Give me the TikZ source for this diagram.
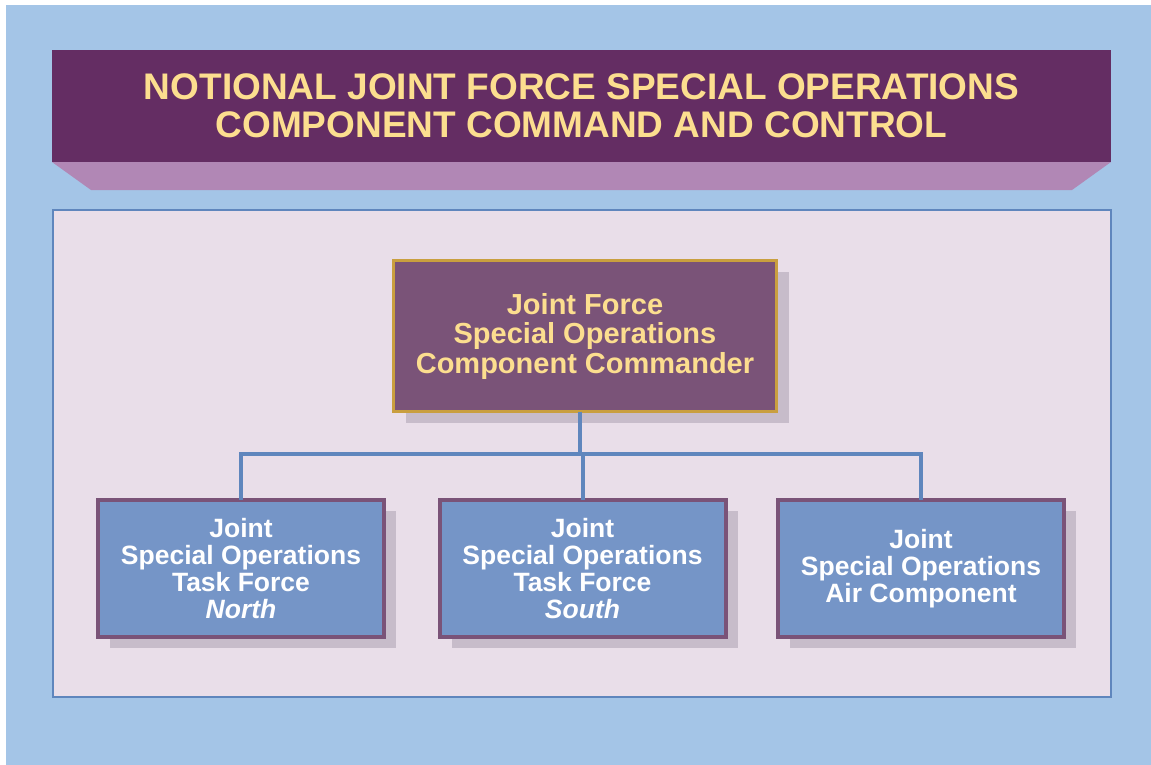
\documentclass[tikz,border=0pt]{standalone}
\usepackage{fontspec}
\setmainfont{Liberation Sans}
\usetikzlibrary{shadows,calc}
\definecolor{skyblue}{HTML}{A4C5E7}
\definecolor{plum}{HTML}{642D63}
\definecolor{bevel}{HTML}{B187B5}
\definecolor{panel}{HTML}{E9DEE9}
\definecolor{linkblue}{HTML}{5F86BD}
\definecolor{mauve}{HTML}{7A5378}
\definecolor{gold}{HTML}{C99F3F}
\definecolor{shade}{HTML}{C7BCCA}
\definecolor{boxblue}{HTML}{7595C7}
\definecolor{cream}{HTML}{FCDE8F}
\tikzset{
  cmdbox/.style={draw=gold, line width=3pt, fill=mauve, text=cream,
    minimum width=383pt, minimum height=151pt, inner sep=0pt, outer sep=0pt,
    align=center, font=\fontsize{29}{29.5}\selectfont\bfseries,
    drop shadow={shadow xshift=12pt, shadow yshift=-11pt, fill=shade, opacity=1}},
  unitbox/.style={draw=mauve, line width=4pt, fill=boxblue, text=white,
    minimum width=286pt, minimum height=137pt, inner sep=0pt, outer sep=0pt,
    align=center, font=\fontsize{26.5}{26.8}\selectfont\bfseries,
    drop shadow={shadow xshift=12pt, shadow yshift=-11pt, fill=shade, opacity=1}},
  link/.style={draw=linkblue, line width=4pt}
}
\begin{document}
\begin{tikzpicture}[x=1pt, y=-1pt]
  \useasboundingbox (0,0) rectangle (1151,765);
  \fill[white] (0,0) rectangle (1151,765);
  \fill[skyblue] (6,5) rectangle (1151,765);
  % title banner
  \node[fill=plum, text=cream, minimum width=1059pt, minimum height=112pt,
    inner sep=0pt, outer sep=0pt, align=center,
    font=\fontsize{37}{38}\selectfont\bfseries] (title) at (581.5,106)
    {NOTIONAL JOINT FORCE SPECIAL OPERATIONS\\COMPONENT COMMAND AND CONTROL};
  \fill[bevel] (title.south west) -- ++(39,28) -- ($(title.south east)+(-39,28)$)
    -- (title.south east) -- cycle;
  % panel
  \draw[linkblue, line width=2.5pt, fill=panel] (53,210) rectangle (1111,697);
  % boxes
  \node[cmdbox] (cmd) at (585,336)
    {Joint Force\\Special Operations\\Component Commander};
  \node[unitbox] (tfn) at (241,568.5)
    {Joint\\Special Operations\\Task Force\\\textit{North}};
  \node[unitbox] (tfs) at (582.5,568.5)
    {Joint\\Special Operations\\Task Force\\\textit{South}};
  \node[unitbox] (air) at (921,568.5)
    {Joint\\Special Operations\\Air Component};
  % connectors
  \coordinate (bus) at (580,454);
  \draw[link] (cmd.south -| bus) -- (bus);
  \draw[link] (tfn.north) |- (bus) -| (air.north);
  \draw[link] (bus -| tfs.north) -- (tfs.north);
\end{tikzpicture}
\end{document}
